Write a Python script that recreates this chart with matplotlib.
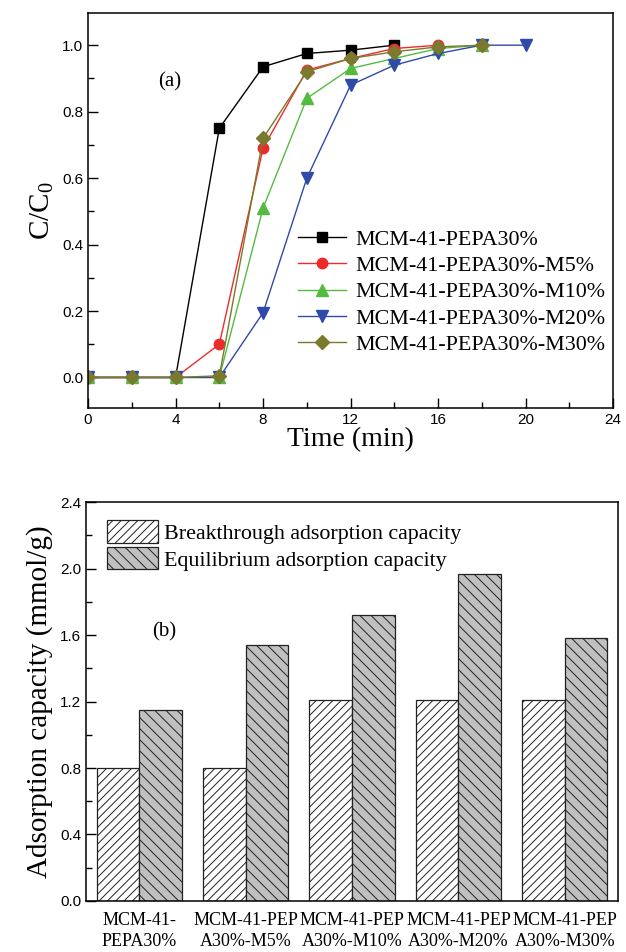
import numpy as np
import matplotlib
matplotlib.use("Agg")
import matplotlib.pyplot as plt
from matplotlib.ticker import MultipleLocator

plt.rcParams['font.family'] = ['Liberation Serif', 'DejaVu Serif']
plt.rcParams['hatch.linewidth'] = 0.7

# ---- data, panel (a): breakthrough curves ----
series_names = ["MCM-41-PEPA30%", "MCM-41-PEPA30%-M5%", "MCM-41-PEPA30%-M10%",
                "MCM-41-PEPA30%-M20%", "MCM-41-PEPA30%-M30%"]
t_pepa = [0, 2, 4, 6, 8, 10, 12, 14]
c_pepa = [0, 0, 0, 0.75, 0.935, 0.975, 0.985, 1.0]
t_m5 = [0, 2, 4, 6, 8, 10, 12, 14, 16]
c_m5 = [0, 0, 0, 0.10, 0.69, 0.925, 0.96, 0.99, 1.0]
t_m10 = [0, 2, 4, 6, 8, 10, 12, 14, 16, 18]
c_m10 = [0, 0, 0, 0, 0.51, 0.84, 0.93, 0.96, 0.99, 1.0]
t_m20 = [0, 2, 4, 6, 8, 10, 12, 14, 16, 18, 20]
c_m20 = [0, 0, 0, 0, 0.195, 0.60, 0.88, 0.94, 0.975, 1.0, 1.0]
t_m30 = [0, 2, 4, 6, 8, 10, 12, 14, 16, 18]
c_m30 = [0, 0, 0, 0.005, 0.72, 0.92, 0.96, 0.98, 0.995, 1.0]

# ---- data, panel (b): adsorption capacities ----
samples = ["MCM-41-\nPEPA30%", "MCM-41-PEP\nA30%-M5%", "MCM-41-PEP\nA30%-M10%",
           "MCM-41-PEP\nA30%-M20%", "MCM-41-PEP\nA30%-M30%"]
breakthrough = [0.80, 0.80, 1.21, 1.21, 1.21]
equilibrium = [1.15, 1.54, 1.72, 1.97, 1.58]

colors = ['#000000', '#ee2b2b', '#55bb40', '#2f4aa8', '#7a7a2e']
markers = ['s', 'o', '^', 'v', 'D']
msizes = [6.5, 7.5, 8, 8, 7]

fig = plt.figure(figsize=(6.26, 9.52), dpi=100)

# panel (a)
ax1 = fig.add_axes([0.1406, 0.5714, 0.839, 0.415])
curves = [(t_pepa, c_pepa), (t_m5, c_m5), (t_m10, c_m10), (t_m20, c_m20), (t_m30, c_m30)]
for (t, c), name, col, mk, ms in zip(curves, series_names, colors, markers, msizes):
    ax1.plot(t, c, color=col, marker=mk, markersize=ms, lw=1.0, label=name)

ax1.set_xlim(0, 24)
ax1.set_ylim(-0.092, 1.097)
ax1.xaxis.set_major_locator(MultipleLocator(4))
ax1.xaxis.set_minor_locator(MultipleLocator(2))
ax1.yaxis.set_major_locator(MultipleLocator(0.2))
ax1.yaxis.set_minor_locator(MultipleLocator(0.1))
ax1.tick_params(which='both', direction='in', top=False, right=False, width=1.0)
ax1.tick_params(which='major', length=7, labelsize=11)
ax1.tick_params(which='minor', length=4)
for lbl in ax1.get_xticklabels() + ax1.get_yticklabels():
    lbl.set_family('Liberation Sans')
ax1.set_xlabel("Time (min)", fontsize=20, labelpad=0)
ax1.set_ylabel("C/C$_\\mathregular{0}$", fontsize=21, labelpad=4)
ax1.text(3.75, 0.89, "(a)", fontsize=15, ha='center', va='center')
ax1.legend(loc='upper left', bbox_to_anchor=(0.40, 0.452), frameon=False,
           fontsize=15.8, handlelength=2.2, handletextpad=0.4, labelspacing=0.27,
           borderaxespad=0, borderpad=0)
for sp in ax1.spines.values():
    sp.set_linewidth(1.1)

# panel (b)
ax2 = fig.add_axes([0.1374, 0.0536, 0.85, 0.419])
x = np.arange(len(samples))
w = 0.4
ax2.bar(x - w / 2, breakthrough, w, facecolor='white', edgecolor='#222222',
        hatch='////', lw=0.9, label="Breakthrough adsorption capacity")
ax2.bar(x + w / 2, equilibrium, w, facecolor='#c0c0c0', edgecolor='#222222',
        hatch='\\\\\\', lw=0.9, label="Equilibrium adsorption capacity")
ax2.set_xlim(-0.5, 4.5)
ax2.set_ylim(0, 2.4)
ax2.set_xticks(x)
ax2.set_xticklabels(samples, fontsize=13, linespacing=1.3)
ax2.yaxis.set_major_locator(MultipleLocator(0.4))
ax2.yaxis.set_minor_locator(MultipleLocator(0.2))
ax2.tick_params(axis='y', which='both', direction='in', right=False, width=1.0)
ax2.tick_params(axis='y', which='major', length=7, labelsize=11)
ax2.tick_params(axis='y', which='minor', length=4)
ax2.tick_params(axis='x', length=0, pad=8)
for lbl in ax2.get_yticklabels():
    lbl.set_family('Liberation Sans')
ax2.set_ylabel("Adsorption capacity (mmol/g)", fontsize=21, labelpad=5)
ax2.text(0.23, 1.62, "(b)", fontsize=15, ha='center', va='center')
ax2.legend(loc='upper left', bbox_to_anchor=(0.04, 0.955), frameon=False,
           fontsize=15.8, handlelength=2.3, handleheight=1.2, handletextpad=0.3,
           labelspacing=0.15, borderaxespad=0, borderpad=0)
for sp in ax2.spines.values():
    sp.set_linewidth(1.1)

fig.savefig("out.png", dpi=100)
